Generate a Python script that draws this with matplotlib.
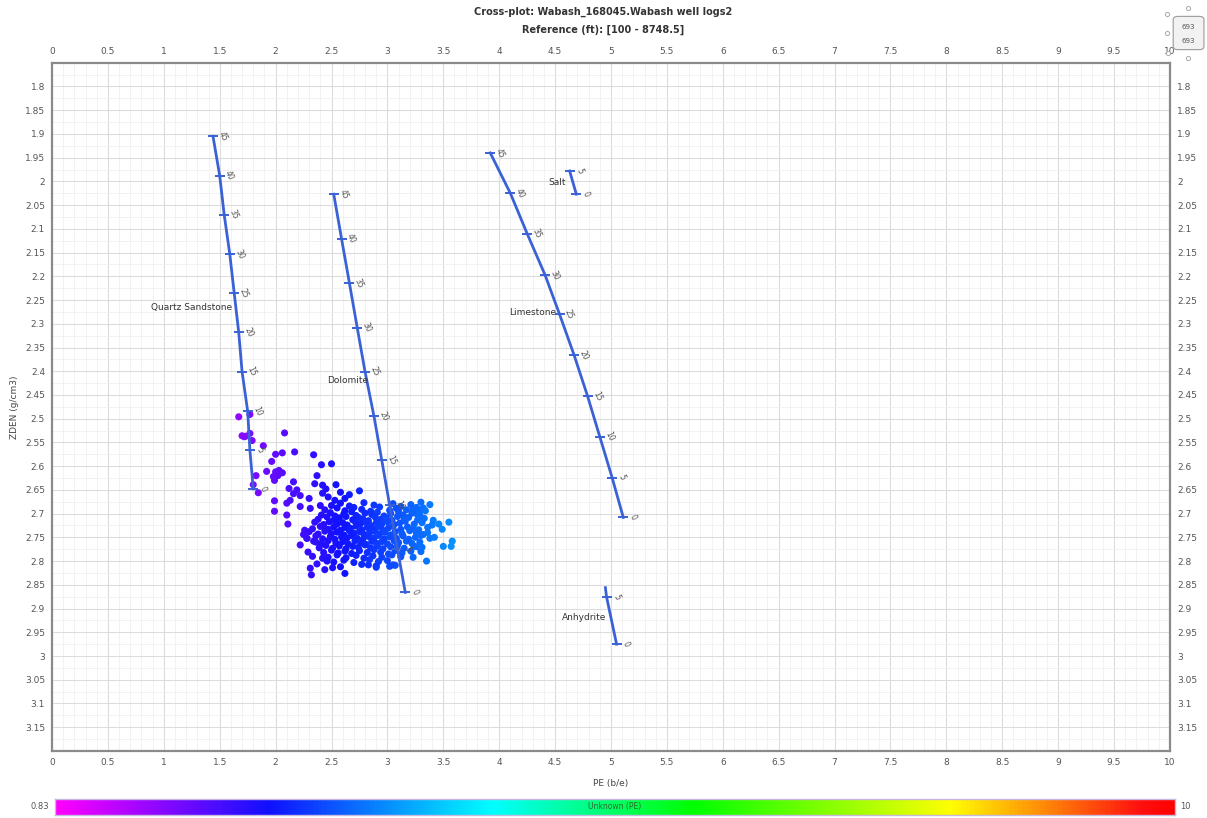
import matplotlib
matplotlib.use("Agg")
import matplotlib.pyplot as plt
import numpy as np
from matplotlib.colors import LinearSegmentedColormap, Normalize
from matplotlib.lines import Line2D
from matplotlib.patches import FancyBboxPatch

# Mineral reference lines: porosity ticks (%) with PE / ZDEN read at each tick
phi_ticks = ["45", "40", "35", "30", "25", "20", "15", "10", "5", "0"]

quartz_pe = [1.44, 1.50, 1.54, 1.59, 1.63, 1.67, 1.70, 1.75, 1.77, 1.80]
quartz_zden = [1.905, 1.988, 2.070, 2.153, 2.236, 2.318, 2.401, 2.484, 2.566, 2.648]

dolo_pe = [2.52, 2.59, 2.66, 2.73, 2.80, 2.88, 2.95, 3.02, 3.09, 3.16]
dolo_zden = [2.027, 2.121, 2.214, 2.308, 2.401, 2.495, 2.588, 2.682, 2.775, 2.866]

lime_pe = [3.92, 4.10, 4.25, 4.41, 4.54, 4.67, 4.79, 4.90, 5.01, 5.11]
lime_zden = [1.940, 2.025, 2.110, 2.197, 2.280, 2.366, 2.452, 2.538, 2.624, 2.708]

salt_pe = [4.63, 4.69]
salt_zden = [1.978, 2.027]
salt_ticks = ["5", "0"]

anhy_line_pe = [4.95, 4.96, 5.05]
anhy_line_zden = [2.856, 2.875, 2.975]
anhy_pe = [4.96, 5.05]
anhy_zden = [2.875, 2.975]
anhy_ticks = ["5", "0"]

# Log samples away from the main body (shaly / sandy points and edges)
edge_pe = [1.67, 1.77, 1.70, 1.72, 1.73, 1.77, 1.79, 1.89, 2.08, 2.00, 2.06, 2.17,
           2.34, 2.41, 2.50, 1.965, 1.92, 1.825, 2.00, 2.03, 2.06, 2.02, 1.98, 1.99,
           1.80, 1.845, 2.16, 2.19, 2.12, 1.99, 1.99, 2.10, 2.10, 2.11, 2.22, 2.30,
           2.37, 2.35, 2.42, 2.45, 2.42, 2.75, 2.54, 2.22, 2.31, 2.40, 2.13, 2.16,
           2.58, 2.62, 2.66, 2.47, 2.53,
           3.38, 3.41, 3.46, 3.49, 3.55, 3.50, 3.57, 3.58, 3.35, 3.23, 3.27, 3.30,
           3.23, 3.26, 3.29, 3.32, 3.36, 3.42,
           2.22, 2.28, 2.32, 2.31, 2.62, 2.83, 2.90, 3.02, 3.05, 2.42, 2.46,
           2.26, 2.29, 2.37, 2.33, 2.44, 2.51, 2.36, 2.25]
edge_zden = [2.496, 2.491, 2.536, 2.538, 2.537, 2.531, 2.546, 2.557, 2.530, 2.575, 2.572, 2.570,
             2.576, 2.597, 2.595, 2.590, 2.611, 2.620, 2.612, 2.609, 2.614, 2.620, 2.622, 2.630,
             2.639, 2.656, 2.633, 2.650, 2.647, 2.673, 2.695, 2.678, 2.703, 2.722, 2.662, 2.668,
             2.620, 2.637, 2.640, 2.648, 2.657, 2.652, 2.639, 2.685, 2.689, 2.683, 2.672, 2.658,
             2.655, 2.668, 2.660, 2.665, 2.672,
             2.681, 2.714, 2.722, 2.733, 2.718, 2.769, 2.769, 2.758, 2.800, 2.792, 2.770, 2.780,
             2.690, 2.700, 2.695, 2.688, 2.740, 2.750,
             2.766, 2.752, 2.829, 2.815, 2.826, 2.808, 2.810, 2.811, 2.808, 2.794, 2.800,
             2.735, 2.781, 2.806, 2.790, 2.818, 2.814, 2.760, 2.744]

# Main body of the log samples
core_pe = [
    2.50, 2.58, 2.66, 2.79, 2.88, 3.05, 3.12, 3.21, 3.30,
    2.44, 2.55, 2.62, 2.70, 2.77, 2.85, 2.93, 3.02, 3.08, 3.17, 3.26, 3.34,
    2.41, 2.49, 2.53, 2.61, 2.68, 2.72, 2.80, 2.86, 2.91, 2.97, 3.03, 3.10, 3.14, 3.22, 3.29,
    2.38, 2.46, 2.52, 2.57, 2.63, 2.69, 2.74, 2.78, 2.83, 2.89, 2.94, 2.99, 3.04, 3.09, 3.15,
    3.19, 3.27, 3.33,
    2.35, 2.43, 2.48, 2.55, 2.60, 2.64, 2.71, 2.76, 2.81, 2.85, 2.90, 2.95, 3.00, 3.06, 3.11,
    3.16, 3.24, 3.31, 3.40,
    2.33, 2.40, 2.47, 2.52, 2.58, 2.62, 2.67, 2.72, 2.77, 2.82, 2.87, 2.92, 2.96, 3.01, 3.05,
    3.12, 3.18, 3.23, 3.28, 3.36,
    2.30, 2.38, 2.44, 2.50, 2.55, 2.61, 2.66, 2.70, 2.75, 2.79, 2.84, 2.89, 2.93, 2.98, 3.03,
    3.07, 3.13, 3.20, 3.26, 3.32,
    2.28, 2.36, 2.42, 2.49, 2.53, 2.59, 2.64, 2.68, 2.73, 2.78, 2.83, 2.88, 2.92, 2.97, 3.02,
    3.08, 3.14, 3.19, 3.25, 3.30, 3.38,
    2.34, 2.41, 2.47, 2.54, 2.60, 2.65, 2.71, 2.76, 2.81, 2.86, 2.90, 2.95, 3.00, 3.06, 3.10,
    3.17, 3.22, 3.29,
    2.39, 2.45, 2.51, 2.57, 2.63, 2.69, 2.74, 2.80, 2.85, 2.91, 2.96, 3.03, 3.09, 3.15, 3.24, 3.31,
    2.43, 2.50, 2.56, 2.62, 2.68, 2.75, 2.82, 2.88, 2.94, 3.01, 3.07, 3.13, 3.21,
    2.47, 2.55, 2.63, 2.72, 2.79, 2.87, 2.95, 3.04, 3.12,
    2.52, 2.61, 2.70, 2.84, 2.92, 3.00,
    2.58, 2.77, 2.90, 3.07,
]
core_zden = [
    2.683, 2.678, 2.684, 2.677, 2.682, 2.679, 2.685, 2.681, 2.676,
    2.692, 2.688, 2.694, 2.687, 2.691, 2.695, 2.686, 2.693, 2.689, 2.692, 2.687, 2.694,
    2.703, 2.698, 2.705, 2.701, 2.696, 2.704, 2.699, 2.702, 2.697, 2.705, 2.700, 2.696, 2.703,
    2.699, 2.704,
    2.712, 2.707, 2.714, 2.709, 2.706, 2.713, 2.708, 2.711, 2.715, 2.707, 2.712, 2.709, 2.714,
    2.706, 2.711, 2.708, 2.713, 2.710,
    2.718, 2.723, 2.717, 2.722, 2.719, 2.724, 2.716, 2.721, 2.718, 2.725, 2.719, 2.722, 2.717,
    2.723, 2.720, 2.716, 2.722, 2.719, 2.724,
    2.732, 2.727, 2.733, 2.728, 2.735, 2.729, 2.731, 2.726, 2.734, 2.729, 2.732, 2.727, 2.735,
    2.730, 2.726, 2.733, 2.728, 2.731, 2.734, 2.729,
    2.738, 2.743, 2.737, 2.742, 2.739, 2.745, 2.736, 2.741, 2.738, 2.744, 2.740, 2.737, 2.743,
    2.739, 2.745, 2.738, 2.742, 2.736, 2.741, 2.744,
    2.752, 2.747, 2.753, 2.748, 2.754, 2.749, 2.751, 2.746, 2.752, 2.755, 2.748, 2.751, 2.746,
    2.753, 2.749, 2.752, 2.747, 2.754, 2.750, 2.746, 2.752,
    2.758, 2.763, 2.757, 2.762, 2.759, 2.764, 2.757, 2.761, 2.765, 2.758, 2.762, 2.759, 2.764,
    2.757, 2.761, 2.758, 2.763, 2.760,
    2.772, 2.767, 2.773, 2.768, 2.774, 2.769, 2.771, 2.766, 2.772, 2.768, 2.774, 2.770, 2.767,
    2.773, 2.769, 2.771,
    2.782, 2.777, 2.783, 2.779, 2.784, 2.778, 2.782, 2.776, 2.781, 2.785, 2.778, 2.783, 2.779,
    2.792, 2.787, 2.793, 2.788, 2.794, 2.789, 2.792, 2.787, 2.791,
    2.802, 2.798, 2.803, 2.797, 2.801, 2.799,
    2.812, 2.807, 2.813, 2.809,
]

pe_min, pe_max = 0.83, 10.0
point_count = "693"
x_ticks = [0, 0.5, 1, 1.5, 2, 2.5, 3, 3.5, 4, 4.5, 5, 5.5, 6, 6.5, 7, 7.5, 8, 8.5, 9, 9.5, 10]
y_ticks = [1.8, 1.85, 1.9, 1.95, 2, 2.05, 2.1, 2.15, 2.2, 2.25, 2.3, 2.35, 2.4, 2.45, 2.5,
           2.55, 2.6, 2.65, 2.7, 2.75, 2.8, 2.85, 2.9, 2.95, 3, 3.05, 3.1, 3.15]

plt.rcParams["font.family"] = ["DejaVu Sans"]

pe_cmap = LinearSegmentedColormap.from_list(
    "pe_rainbow",
    [(0.0, "#ff00ff"), (0.19, "#1010ff"), (0.39, "#00ffff"), (0.57, "#00ff00"),
     (0.80, "#ffff00"), (0.97, "#ff1010"), (1.0, "#ff0000")],
)
norm = Normalize(pe_min, pe_max)

fig = plt.figure(figsize=(12.07, 8.18), dpi=100, facecolor="white")
ax = fig.add_axes([0.0431, 0.082, 0.9262, 0.8413])

ax.set_xlim(0, 10)
ax.set_ylim(3.2, 1.75)
ax.set_xticks(x_ticks)
ax.set_xticklabels([f"{t:g}" for t in x_ticks])
ax.set_yticks(y_ticks)
ax.set_yticklabels([f"{t:g}" for t in y_ticks])
ax.set_xticks(np.arange(0, 10.01, 0.1), minor=True)
ax.set_yticks(np.arange(1.75, 3.201, 0.025), minor=True)
ax.tick_params(axis="both", which="both", length=0, labelsize=6.5, colors="#555555",
               top=True, labeltop=True, right=True, labelright=True, pad=5)
ax.grid(True, which="major", color="#dcdcdc", linewidth=0.8)
ax.grid(True, which="minor", color="#f0f0f0", linewidth=0.6)
ax.set_axisbelow(True)
for sp in ax.spines.values():
    sp.set_color("#8a8a8a")
    sp.set_linewidth(1.6)

line_kw = dict(color="#3a62d6", linewidth=2.0, zorder=3)
tick_kw = dict(marker="_", markersize=7, markeredgewidth=1.4, color="#3a62d6",
               linestyle="none", zorder=3)


def mineral_line(pe_vals, zden_vals, labels, line_pe=None, line_zden=None):
    ax.plot(line_pe if line_pe else pe_vals, line_zden if line_zden else zden_vals, **line_kw)
    ax.plot(pe_vals, zden_vals, **tick_kw)
    for x, y, lab in zip(pe_vals, zden_vals, labels):
        ax.annotate(lab, (x, y), xytext=(7, 0), textcoords="offset points",
                    fontsize=5.5, color="#555555", rotation=-65,
                    ha="center", va="center", zorder=4)


mineral_line(quartz_pe, quartz_zden, phi_ticks)
mineral_line(dolo_pe, dolo_zden, phi_ticks)
mineral_line(lime_pe, lime_zden, phi_ticks)
mineral_line(salt_pe, salt_zden, salt_ticks)
mineral_line(anhy_pe, anhy_zden, anhy_ticks, anhy_line_pe, anhy_line_zden)

name_kw = dict(fontsize=6.5, color="#333333", ha="right", va="center", zorder=4)
ax.text(1.607, 2.265, "Quartz Sandstone", **name_kw)
ax.text(2.83, 2.42, "Dolomite", **name_kw)
ax.text(4.51, 2.277, "Limestone", **name_kw)
ax.text(4.60, 2.002, "Salt", **name_kw)
ax.text(4.96, 2.918, "Anhydrite", **name_kw)

all_pe = np.array(edge_pe + core_pe)
all_zden = np.array(edge_zden + core_zden)
ax.scatter(all_pe, all_zden, c=all_pe, cmap=pe_cmap, norm=norm, s=26,
           edgecolors="none", zorder=2)

ax.set_xlabel("PE (b/e)", fontsize=6.5, color="#444444", labelpad=9)
ax.set_ylabel("ZDEN (g/cm3)", fontsize=6.5, color="#444444", labelpad=4)

fig.text(0.5, 0.985, "Cross-plot: Wabash_168045.Wabash well logs2", ha="center",
         va="center", fontsize=7, fontweight="bold", color="#333333")
fig.text(0.5, 0.963, "Reference (ft): [100 - 8748.5]", ha="center", va="center",
         fontsize=7, fontweight="bold", color="#333333")

# Colour bar strip for PE
cax = fig.add_axes([0.0456, 0.0037, 0.928, 0.0196])
grad = np.linspace(0, 1, 512).reshape(1, -1)
cax.imshow(grad, aspect="auto", cmap=pe_cmap, extent=(0, 1, 0, 1))
cax.set_xticks([])
cax.set_yticks([])
for sp in cax.spines.values():
    sp.set_color("#c8b8e0")
    sp.set_linewidth(1.0)
cax.text(0.5, 0.5, "Unknown (PE)", ha="center", va="center", fontsize=5.5,
         color="#2a6a2a", transform=cax.transAxes)
fig.text(0.041, 0.0135, f"{pe_min:g}", ha="right", va="center", fontsize=6, color="#555555")
fig.text(0.978, 0.0135, f"{pe_max:g}", ha="left", va="center", fontsize=6, color="#555555")

# Small selected count badge in the top-right corner, with its resize handles
badge = FancyBboxPatch((0.9740, 0.9413), 0.0215, 0.0367,
                       boxstyle="round,pad=0.002,rounding_size=0.004",
                       transform=fig.transFigure, facecolor="#f2f2f2", edgecolor="#9a9a9a",
                       linewidth=0.8)
fig.patches.append(badge)
fig.text(0.9848, 0.9665, point_count, ha="center", va="center", fontsize=5, color="#555555")
fig.text(0.9848, 0.9500, point_count, ha="center", va="center", fontsize=5, color="#555555")
handles = Line2D([0.9668, 0.9668, 0.9677, 0.9843, 0.9843],
                 [0.9829, 0.9597, 0.9352, 0.9902, 0.9291],
                 transform=fig.transFigure, linestyle="none", marker="o", markersize=3,
                 markerfacecolor="white", markeredgecolor="#aaaaaa", markeredgewidth=0.7)
fig.add_artist(handles)

fig.savefig("out.png", dpi=100, facecolor="white")
